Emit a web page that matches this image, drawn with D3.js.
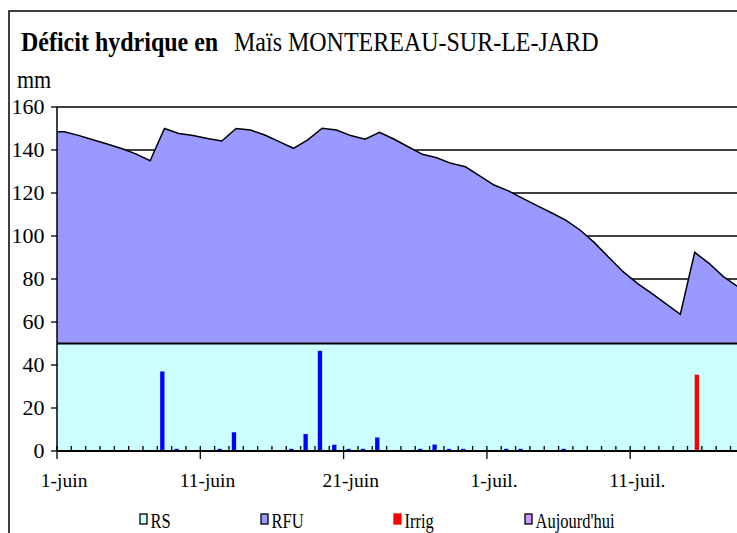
<!DOCTYPE html>
<html>
<head>
<meta charset="utf-8">
<script src="https://cdn.jsdelivr.net/npm/d3@7"></script>
<style>
  html, body { margin: 0; padding: 0; background: #fff; }
  svg { display: block; }
</style>
</head>
<body>
<div id="chart"></div>
<script>
// ---------- DATA ----------
const dayLabels = ["1-juin", "11-juin", "21-juin", "1-juil.", "11-juil."];
const labelDays = [0, 10, 20, 30, 40];
// total reserve level (RS + RFU), mm, one value per day starting 1 June
const reserve = [148.5, 146.8, 144.8, 142.8, 140.7, 138.2, 135.0, 150.0, 147.7, 146.7,
                 145.4, 144.2, 150.0, 149.3, 147.0, 143.9, 140.8, 144.7, 150.1, 149.3,
                 146.7, 145.0, 148.2, 145.1, 141.5, 138.0, 136.4, 133.8, 132.2, 128.0,
                 123.7, 121.0, 117.5, 114.1, 110.8, 107.4, 102.8, 96.9, 90.1, 83.4,
                 78.0, 73.3, 68.4, 63.6, 92.4, 87.3, 81.1, 76.5];
// RS (réserve de survie), mm
const rs = [50, 50, 50, 50, 50, 50, 50, 50, 50, 50, 50, 50, 50, 50, 50, 50,
            50, 50, 50, 50, 50, 50, 50, 50, 50, 50, 50, 50, 50, 50, 50, 50,
            50, 50, 50, 50, 50, 50, 50, 50, 50, 50, 50, 50, 50, 50, 50, 50];
// rain (pluie), mm
const pluie = [0, 0, 0, 0, 0, 0, 0, 37, 1, 0,
               0, 1, 8.7, 0, 0, 0, 1, 7.9, 46.6, 2.9,
               1, 1, 6.3, 0, 0, 1, 3, 1, 1, 0,
               0, 1, 1, 0, 0, 1, 0, 0, 0, 0,
               0, 0, 0, 0, 0, 0, 0, 0];
// irrigation, mm
const irrig = [0, 0, 0, 0, 0, 0, 0, 0, 0, 0,
               0, 0, 0, 0, 0, 0, 0, 0, 0, 0,
               0, 0, 0, 0, 0, 0, 0, 0, 0, 0,
               0, 0, 0, 0, 0, 0, 0, 0, 0, 0,
               0, 0, 0, 0, 35.5, 0, 0, 0];
const yTicks = [0, 20, 40, 60, 80, 100, 120, 140, 160];
const legendItems = ["RS", "RFU", "Irrig", "Aujourd'hui"];

// ---------- LAYOUT ----------
const FONT = "Liberation Serif";
const W = 737, H = 533;
const svg = d3.select("#chart").append("svg").attr("width", W).attr("height", H);

const x = d3.scaleLinear().domain([0, 48]).range([57, 57 + 48 * 14.33]);
const y = d3.scaleLinear().domain([0, 160]).range([451, 107]);
const right = W;

// outer chart border (cropped)
svg.append("path").attr("d", `M9,${H} V11 H${W}`)
  .attr("fill", "none").attr("stroke", "#000").attr("stroke-width", 1.5);

// title (slightly stretched vertically like the source)
svg.append("text").attr("transform", "translate(21,51) scale(1,1.18)")
  .attr("font-family", FONT).attr("font-size", 24).attr("font-weight", "bold")
  .text("Déficit hydrique en");
svg.append("text").attr("transform", "translate(234,51) scale(1,1.18)")
  .attr("font-family", FONT).attr("font-size", 24)
  .text("Maïs MONTEREAU-SUR-LE-JARD");

svg.append("text").attr("transform", "translate(17,88) scale(1,1.18)")
  .attr("font-family", FONT).attr("font-size", 22).text("mm");

// grid lines
svg.append("g").selectAll("line").data(yTicks.filter(d => d > 0)).join("line")
  .attr("x1", 57).attr("x2", right)
  .attr("y1", d => y(d)).attr("y2", d => y(d))
  .attr("stroke", "#000").attr("stroke-width", 1.3);

// areas: points at category centres, extended to the left axis
const pts = reserve.map((v, i) => ({ t: i + 0.5, top: v, rs: rs[i] }));
pts.unshift({ t: 0, top: reserve[0], rs: rs[0] });

const rsArea = d3.area().x(d => x(d.t)).y0(y(0)).y1(d => y(d.rs));
const rfuArea = d3.area().x(d => x(d.t)).y0(d => y(d.rs)).y1(d => y(d.top));

svg.append("path").datum(pts).attr("d", rsArea).attr("fill", "#CCFFFF");
svg.append("path").datum(pts).attr("d", rfuArea).attr("fill", "#9999FF");
svg.append("path").datum(pts)
  .attr("d", d3.line().x(d => x(d.t)).y(d => y(d.top)))
  .attr("fill", "none").attr("stroke", "#000").attr("stroke-width", 1.5);
svg.append("path").datum(pts)
  .attr("d", d3.line().x(d => x(d.t)).y(d => y(d.rs)))
  .attr("fill", "none").attr("stroke", "#000").attr("stroke-width", 2);

// bars
const bw = 0.3;
svg.append("g").selectAll("rect").data(pluie.map((v, i) => ({ i, v })).filter(d => d.v > 0)).join("rect")
  .attr("x", d => x(d.i + 0.5 - bw)).attr("width", x(bw) - x(0))
  .attr("y", d => y(d.v)).attr("height", d => y(0) - y(d.v))
  .attr("fill", "#0000FF");
svg.append("g").selectAll("rect").data(irrig.map((v, i) => ({ i, v })).filter(d => d.v > 0)).join("rect")
  .attr("x", d => x(d.i + 0.5)).attr("width", x(bw) - x(0))
  .attr("y", d => y(d.v)).attr("height", d => y(0) - y(d.v))
  .attr("fill", "#FF0000");

// x axis
svg.append("line").attr("x1", 57).attr("x2", right).attr("y1", y(0)).attr("y2", y(0))
  .attr("stroke", "#000").attr("stroke-width", 2);
const dayTicks = d3.range(0, 49);
svg.append("g").selectAll("line").data(dayTicks).join("line")
  .attr("x1", d => x(d)).attr("x2", d => x(d))
  .attr("y1", y(0) - 5)
  .attr("y2", d => d % 10 === 0 ? y(0) + 8 : y(0))
  .attr("stroke", "#000").attr("stroke-width", 1.3);
svg.append("g").selectAll("text").data(labelDays).join("text")
  .attr("x", d => x(d + 0.5)).attr("y", 487).attr("text-anchor", "middle")
  .attr("font-family", FONT).attr("font-size", 19.5).text((d, i) => dayLabels[i]);

// y axis
svg.append("line").attr("x1", 57).attr("x2", 57).attr("y1", y(160)).attr("y2", y(0))
  .attr("stroke", "#000").attr("stroke-width", 1.5);
svg.append("g").selectAll("line").data(yTicks).join("line")
  .attr("x1", 51).attr("x2", 57).attr("y1", d => y(d)).attr("y2", d => y(d))
  .attr("stroke", "#000").attr("stroke-width", 1.3);
svg.append("g").selectAll("text").data(yTicks).join("text")
  .attr("x", 44.5).attr("y", d => y(d) + 6.5).attr("text-anchor", "end")
  .attr("font-family", FONT).attr("font-size", 22).text(d => d);

// legend
const legColors = ["#CCFFFF", "#9999FF", "#FF0000", "#CC99FF"];
const legX = [140, 261, 394, 525];
const lg = svg.append("g").selectAll("g").data(legendItems).join("g");
lg.append("rect").attr("x", (d, i) => legX[i]).attr("y", 514).attr("width", 7).attr("height", 10)
  .attr("fill", (d, i) => legColors[i])
  .attr("stroke", (d, i) => i === 2 ? "#FF0000" : "#000").attr("stroke-width", 1.3);
lg.append("text")
  .attr("transform", (d, i) => `translate(${legX[i] + 10.5},528) scale(1,1.22)`)
  .attr("font-family", FONT).attr("font-size", 16.5).text(d => d);
</script>
</body>
</html>
